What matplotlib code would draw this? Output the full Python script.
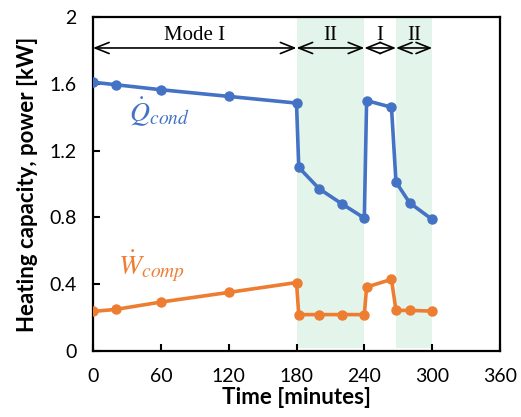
import matplotlib.pyplot as plt

# time (min) and measured values
t_cond = [0, 20, 60, 120, 180, 182, 200, 220, 240, 242, 264, 268, 280, 300]
q_cond = [1.61, 1.595, 1.565, 1.525, 1.485, 1.10, 0.972, 0.882, 0.796, 1.50, 1.46, 1.012, 0.888, 0.788]

t_comp = [0, 20, 60, 120, 180, 182, 200, 220, 240, 242, 264, 268, 280, 300]
w_comp = [0.237, 0.249, 0.293, 0.351, 0.41, 0.218, 0.218, 0.218, 0.218, 0.383, 0.429, 0.243, 0.243, 0.239]

# operating modes: (start, end, label)
modes = [(0, 180, 'Mode I'), (180, 240, 'II'), (240, 268, 'I'), (268, 300, 'II')]
shaded = [(180, 240), (268, 300)]

plt.rcParams['font.family'] = ['Lato', 'DejaVu Sans']
plt.rcParams['mathtext.fontset'] = 'stix'

fig = plt.figure(figsize=(5.21, 4.17), dpi=100)
ax = fig.add_axes([0.1785, 0.1583, 0.7812, 0.8007])

for a, b in shaded:
    ax.axvspan(a, b, ymin=0.01, ymax=1, color='#e3f5ea', lw=0, zorder=0)

ax.plot(t_cond, q_cond, '-o', color='#4472C4', lw=2.6, ms=6.5, zorder=3)
ax.plot(t_comp, w_comp, '-o', color='#ED7D31', lw=2.6, ms=6.5, zorder=3)

ax.text(32, 1.43, r'$\dot{Q}_{cond}$', color='#4472C4', fontsize=20, va='center')
ax.text(22, 0.51, r'$\dot{W}_{comp}$', color='#ED7D31', fontsize=20, va='center')

for a, b, lab in modes:
    ax.annotate('', xy=(a, 1.815), xytext=(b, 1.815),
                arrowprops=dict(arrowstyle='<->,head_length=1.0,head_width=0.4',
                                color='black', lw=1.2, shrinkA=0, shrinkB=0))
    ax.text((a + b) / 2, 1.83, lab, ha='center', va='bottom',
            fontsize=15, family='Liberation Serif')

ax.set_xlim(0, 360)
ax.set_ylim(0, 2)
ax.set_xticks([0, 60, 120, 180, 240, 300, 360])
ax.set_yticks([0, 0.4, 0.8, 1.2, 1.6, 2])
ax.set_yticklabels(['0', '0.4', '0.8', '1.2', '1.6', '2'])
ax.tick_params(direction='in', length=5, width=1.5, labelsize=14, pad=12)
for s in ax.spines.values():
    s.set_linewidth(1.6)

ax.set_xlabel('Time [minutes]', fontsize=16, fontweight='bold', labelpad=2)
ax.set_ylabel('Heating capacity, power [kW]', fontsize=16, fontweight='bold', labelpad=8)

plt.savefig('out.png', dpi=100)
